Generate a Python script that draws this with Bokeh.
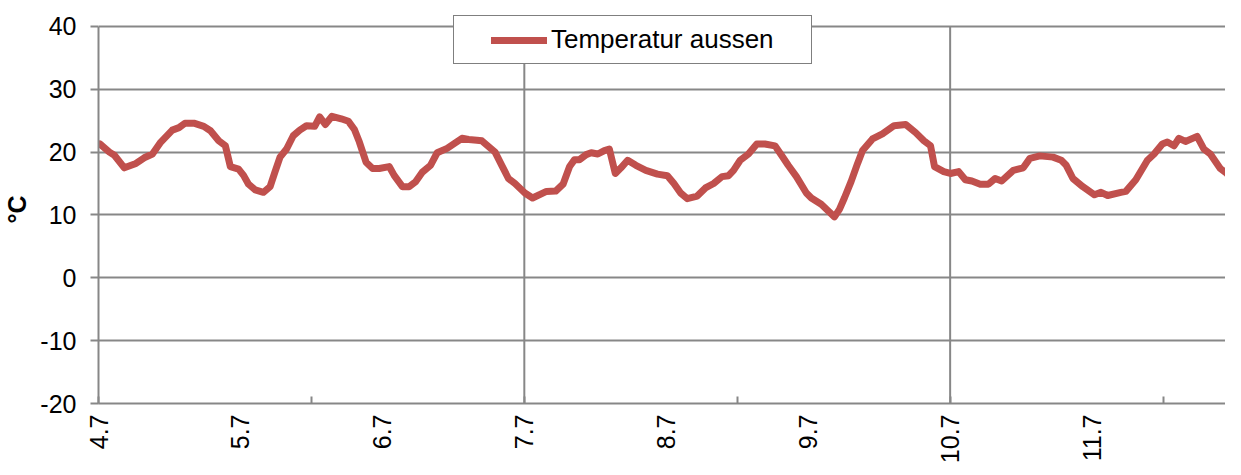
import math
from bokeh.plotting import figure
from bokeh.models import FixedTicker, Range1d, Legend, LegendItem
from bokeh.embed import file_html
from bokeh.resources import INLINE

# ---- data (days since 4.7, outside temperature in °C) ----
days = [0.01, 0.077, 0.112, 0.182, 0.264, 0.322, 0.380, 0.439, 0.520, 0.567,
        0.609, 0.672, 0.742, 0.789, 0.847, 0.894, 0.929, 0.987, 1.022, 1.057,
        1.104, 1.162, 1.209, 1.244, 1.279, 1.325, 1.372, 1.418, 1.465, 1.523,
        1.558, 1.598, 1.645, 1.710, 1.761, 1.803, 1.838, 1.885, 1.931, 1.978,
        2.048, 2.083, 2.141, 2.188, 2.234, 2.281, 2.339, 2.386, 2.456, 2.503,
        2.561, 2.608, 2.666, 2.701, 2.794, 2.841, 2.888, 2.934, 3.004, 3.058,
        3.156, 3.221, 3.273, 3.319, 3.354, 3.389, 3.436, 3.471, 3.518, 3.564,
        3.599, 3.641, 3.681, 3.728, 3.786, 3.856, 3.938, 4.008, 4.054, 4.101,
        4.148, 4.218, 4.276, 4.334, 4.393, 4.439, 4.474, 4.521, 4.579, 4.638,
        4.695, 4.766, 4.812, 4.859, 4.917, 4.987, 5.022, 5.092, 5.138, 5.185,
        5.220, 5.255, 5.302, 5.348, 5.383, 5.453, 5.523, 5.605, 5.687, 5.757,
        5.815, 5.862, 5.890, 5.955, 6.002, 6.060, 6.107, 6.153, 6.212, 6.270,
        6.317, 6.363, 6.445, 6.515, 6.562, 6.632, 6.725, 6.783, 6.818, 6.865,
        6.935, 7.017, 7.063, 7.110, 7.203, 7.238, 7.308, 7.390, 7.437, 7.495,
        7.530, 7.577, 7.612, 7.658, 7.740, 7.787, 7.833, 7.903, 7.950, 7.992]
temps = [21.3, 20.0, 19.5, 17.5, 18.2, 19.1, 19.7, 21.6, 23.5, 23.9,
         24.6, 24.6, 24.1, 23.4, 21.8, 21.0, 17.7, 17.3, 16.3, 14.9,
         14.0, 13.6, 14.5, 16.9, 19.2, 20.5, 22.6, 23.5, 24.2, 24.1,
         25.6, 24.4, 25.7, 25.3, 24.9, 23.6, 21.6, 18.4, 17.4, 17.4,
         17.7, 16.3, 14.5, 14.5, 15.3, 16.8, 17.9, 19.9, 20.6, 21.3,
         22.2, 22.0, 21.9, 21.8, 20.0, 17.9, 15.8, 15.0, 13.5, 12.7,
         13.75, 13.8, 14.9, 17.7, 18.8, 18.8, 19.6, 19.9, 19.7, 20.25,
         20.5, 16.6, 17.5, 18.7, 17.9, 17.1, 16.5, 16.25, 15.0, 13.5,
         12.6, 13.0, 14.3, 15.0, 16.1, 16.25, 17.1, 18.7, 19.7, 21.3,
         21.3, 21.0, 19.5, 17.9, 16.1, 13.5, 12.7, 11.7, 10.7, 9.7,
         10.9, 12.7, 15.3, 18.2, 20.25, 22.1, 22.9, 24.2, 24.4, 23.1,
         21.8, 21.0, 17.7, 16.9, 16.6, 16.9, 15.6, 15.4, 14.9, 14.9,
         15.8, 15.4, 17.1, 17.5, 19.0, 19.4, 19.2, 18.7, 17.9, 15.8,
         14.5, 13.2, 13.6, 13.1, 13.6, 13.75, 15.6, 18.7, 19.7, 21.3,
         21.6, 21.0, 22.2, 21.7, 22.5, 20.5, 19.7, 17.4, 16.6, 15.4]

label_days = [0, 1, 2, 3, 4, 5, 6, 7]
tick_labels = ["4.7", "5.7", "6.7", "7.7", "8.7", "9.7", "10.7", "11.7"]
tickmark_days = [0, 1.5, 3, 4.5, 6, 7.5]
vgrid_days = [3, 6]
y_ticks = [-20, -10, 0, 10, 20, 30, 40]
y_labels = ["-20", "-10", "0", "10", "20", "30", "40"]
series_name = "Temperatur aussen"

GRAY = "#878787"
RED = "#C0504D"
FONT = "Liberation Sans"
Y_MIN, Y_MAX = -20, 40
# extra head-room above 40 (11 px at 380 px per 60 units) so the legend box,
# which sits above the top gridline, stays inside the (clipping) frame
Y_TOP = Y_MAX + 11 * (Y_MAX - Y_MIN) / 380.0

p = figure(width=1225, height=466, output_backend="svg", toolbar_location=None,
           x_range=Range1d(0, 7.94), y_range=Range1d(Y_MIN, Y_TOP),
           min_border_left=90, min_border_top=15, min_border_bottom=60,
           min_border_right=0)
p.outline_line_color = None
p.background_fill_color = "white"
p.border_fill_color = "white"

# vertical gridlines, limited to the -20..40 band
p.segment(x0=vgrid_days, y0=[Y_MIN] * len(vgrid_days),
          x1=vgrid_days, y1=[Y_MAX] * len(vgrid_days),
          line_color=GRAY, line_width=2)

r = p.line(days, temps, line_color=RED, line_width=7, line_join="round",
           line_cap="round")

# x axis
xa = p.xaxis[0]
xa.ticker = FixedTicker(ticks=label_days, minor_ticks=tickmark_days)
xa.major_label_overrides = {d: s for d, s in zip(label_days, tick_labels)}
xa.major_label_orientation = math.pi / 2
xa.major_label_text_font = FONT
xa.major_label_text_font_size = "25px"
xa.major_label_text_color = "black"
xa.major_label_standoff = 11
xa.axis_label_standoff = 0
xa.major_tick_line_color = None
xa.major_tick_in = 0
xa.major_tick_out = 0
xa.minor_tick_in = 7
xa.minor_tick_out = 0
xa.minor_tick_line_color = GRAY
xa.minor_tick_line_width = 2
xa.axis_line_color = GRAY
xa.axis_line_width = 2

# y axis
ya = p.yaxis[0]
ya.ticker = FixedTicker(ticks=y_ticks)
ya.bounds = (Y_MIN, Y_MAX)
ya.major_label_overrides = {t: s for t, s in zip(y_ticks, y_labels)}
ya.major_label_text_font = FONT
ya.major_label_text_font_size = "25px"
ya.major_label_text_color = "black"
ya.major_label_standoff = 14
ya.major_tick_in = 0
ya.major_tick_out = 8
ya.major_tick_line_color = GRAY
ya.major_tick_line_width = 2
ya.minor_tick_line_color = None
ya.axis_line_color = GRAY
ya.axis_line_width = 2
ya.axis_label = "°C"
ya.axis_label_text_font = FONT
ya.axis_label_text_font_size = "25px"
ya.axis_label_text_font_style = "bold"
ya.axis_label_text_color = "black"
ya.axis_label_standoff = 6

# grids
p.xgrid.visible = False
p.ygrid.ticker = FixedTicker(ticks=y_ticks)
p.ygrid.grid_line_color = GRAY
p.ygrid.grid_line_width = 2

legend = Legend(items=[LegendItem(label=series_name, renderers=[r])],
                location=(355, 339))
legend.label_text_font = FONT
legend.label_text_font_size = "26px"
legend.label_text_color = "black"
legend.glyph_width = 56
legend.glyph_height = 20
legend.label_standoff = 4
legend.border_line_color = "black"
legend.border_line_width = 1
legend.background_fill_color = "white"
legend.background_fill_alpha = 1
legend.margin = 0
try:
    legend.padding = (37, 8)
except Exception:
    legend.padding = 8
p.add_layout(legend)

open("out.html", "w").write(file_html(p, INLINE))
